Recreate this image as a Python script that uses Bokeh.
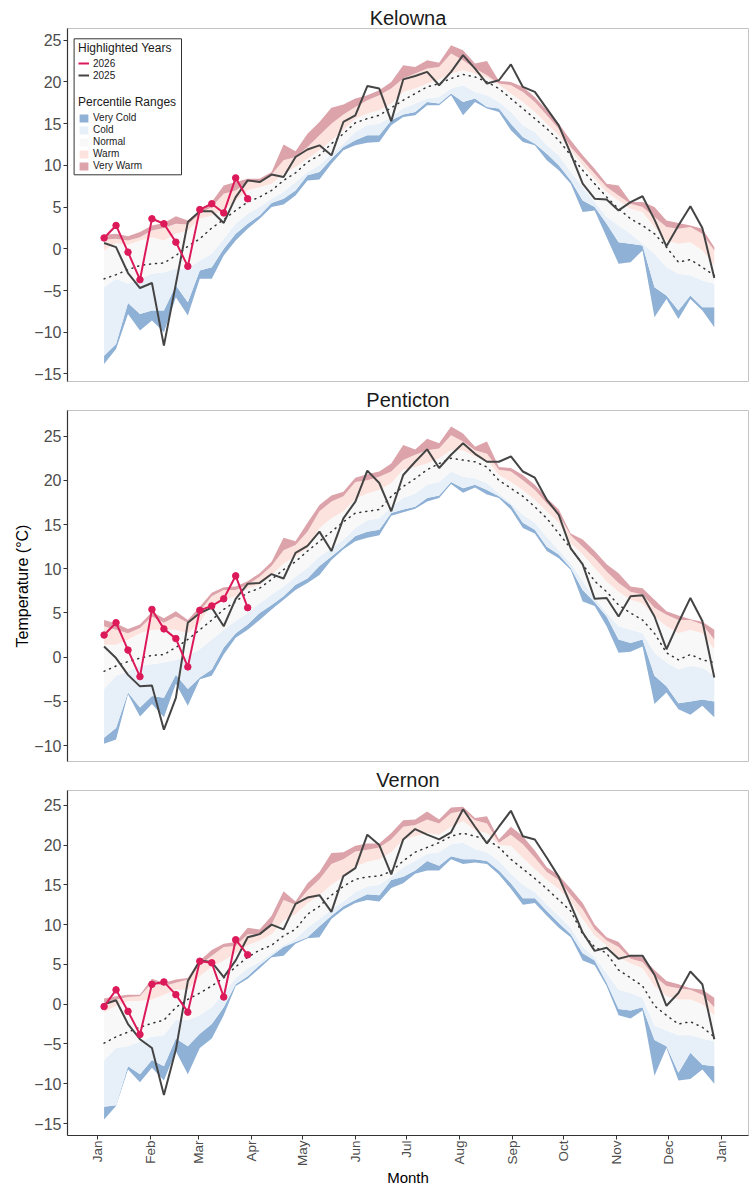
import numpy as np
import pandas as pd
from bokeh.plotting import figure
from bokeh.models import (ColumnDataSource, Range1d, FixedTicker, MonthsTicker,
                          DatetimeTickFormatter, Legend, LegendItem, BoxAnnotation)
from bokeh.layouts import column
from bokeh.embed import file_html
from bokeh.resources import INLINE

FONT = "Liberation Sans"

# ---------------- data (weekly, 52 weeks) ----------------
WEEK_START = "2025-01-05"
N_WEEKS = 52
N_2026 = 13

KEL_MAX = [1.7, 1.8, 1.5, 2.0, 2.8, 3.1, 3.9, 3.4, 4.6, 5.6, 7.6, 8.0, 8.4, 8.4, 9.2, 12.5, 11.7, 13.8, 15.2, 16.9,
           17.3, 18.0, 18.4, 19.0, 20.0, 22.0, 21.8, 22.6, 22.3, 24.4, 23.8, 22.2, 22.5, 20.1, 20.0, 19.4, 18.2, 16.6, 15.0, 13.0,
           11.2, 9.6, 7.8, 7.6, 5.6, 5.6, 5.0, 3.4, 3.1, 2.8, 2.4, 0.2]
KEL_P90 = [1.1, 1.2, 1.0, 1.4, 2.2, 2.5, 3.0, 2.9, 4.2, 5.0, 6.6, 7.0, 8.0, 8.0, 8.9, 10.6, 11.0, 12.2, 13.6, 15.0,
           16.1, 17.0, 17.8, 18.4, 19.2, 20.4, 21.0, 21.6, 21.8, 23.4, 22.6, 21.6, 20.8, 19.8, 19.6, 18.8, 17.6, 16.0, 14.4, 12.2,
           10.6, 9.0, 7.4, 6.4, 5.4, 5.0, 3.8, 2.6, 2.4, 2.6, 1.8, -0.2]
KEL_P70 = [-0.2, 0.7, 0.5, 1.0, 1.4, 1.0, 1.8, 2.2, 3.6, 4.0, 4.6, 5.8, 7.0, 7.4, 7.8, 9.0, 9.8, 10.8, 11.8, 13.0,
           14.2, 15.6, 16.2, 16.6, 17.4, 18.8, 19.2, 19.8, 20.3, 21.0, 21.4, 21.0, 20.5, 19.7, 18.6, 17.6, 16.4, 15.0, 13.6, 11.8,
           10.0, 8.4, 6.8, 5.8, 4.8, 4.4, 2.6, 1.0, 0.6, 0.8, -0.2, -2.0]
KEL_MED = [-3.6, -3.1, -2.5, -2.0, -1.8, -1.7, -0.8, 0.3, 1.2, 2.5, 3.5, 4.6, 5.6, 6.2, 7.0, 8.2, 9.1, 10.4, 11.2, 12.6,
           13.8, 15.1, 15.6, 16.0, 16.9, 17.8, 18.6, 19.4, 19.8, 20.4, 20.9, 20.6, 20.0, 19.2, 18.0, 16.8, 15.6, 14.4, 13.0, 11.2,
           9.4, 7.8, 6.2, 4.8, 3.6, 2.8, 1.8, 0.2, -1.6, -1.3, -2.2, -3.2]
KEL_P30 = [-4.6, -3.6, -4.2, -3.6, -3.0, -2.8, -2.4, -2.4, -1.4, -0.6, 1.2, 3.0, 4.2, 5.0, 6.0, 6.8, 8.0, 9.2, 10.0, 11.4,
           12.6, 14.0, 14.8, 15.0, 15.8, 16.8, 17.4, 18.0, 18.2, 19.2, 19.6, 18.8, 18.4, 17.6, 16.4, 14.8, 14.0, 12.4, 11.2, 9.2,
           7.4, 5.6, 3.8, 2.8, 1.8, 0.6, -0.6, -2.2, -3.0, -3.2, -3.8, -4.2]
KEL_P10 = [-12.8, -11.4, -6.5, -7.8, -7.4, -7.4, -4.4, -6.4, -2.6, -2.2, 0.0, 1.8, 3.0, 4.0, 5.5, 6.0, 7.0, 8.8, 9.2, 10.8,
           12.2, 13.0, 13.6, 13.6, 15.4, 16.1, 16.4, 17.6, 17.4, 18.6, 17.6, 18.0, 17.0, 16.8, 15.0, 13.4, 12.6, 11.4, 10.0, 8.2,
           5.8, 5.0, 3.0, 0.8, 0.6, 0.4, -4.6, -5.6, -7.4, -5.6, -7.0, -7.0]
KEL_MIN = [-13.8, -12.0, -7.8, -9.8, -8.6, -10.0, -5.8, -8.0, -3.6, -3.6, -0.8, 1.0, 2.4, 3.6, 5.0, 5.3, 6.4, 8.2, 8.3, 10.2,
           11.8, 12.4, 12.7, 12.8, 14.8, 15.8, 16.0, 17.2, 17.2, 18.4, 16.0, 17.6, 16.8, 16.4, 14.2, 12.8, 12.4, 10.6, 9.4, 7.8,
           4.4, 4.6, 1.4, -1.8, -1.6, -0.2, -8.2, -6.0, -8.4, -6.0, -7.4, -9.4]
KEL_2025 = [0.7, 0.2, -2.9, -4.7, -4.1, -11.6, -4.2, 3.2, 4.5, 4.5, 3.1, 6.2, 8.2, 8.0, 8.9, 8.6, 11.0, 11.9, 12.4, 11.2,
            15.2, 16.0, 19.5, 19.2, 15.3, 20.3, 20.7, 21.2, 19.6, 21.2, 23.2, 21.6, 19.8, 20.2, 22.1, 19.4, 18.8, 16.8, 14.8, 11.4,
            7.8, 6.0, 5.9, 4.6, 5.6, 6.3, 3.5, 0.3, 2.8, 5.1, 2.5, -3.5]
KEL_2026 = [1.3, 2.8, -0.4, -3.7, 3.6, 3.0, 0.8, -2.1, 4.7, 5.4, 4.3, 8.5, 6.0]

PEN_MAX = [4.2, 3.8, 3.2, 3.7, 5.1, 4.4, 5.2, 4.2, 5.7, 7.3, 7.9, 8.0, 8.6, 9.5, 10.8, 13.5, 13.1, 15.2, 17.2, 18.3,
           18.7, 20.3, 20.7, 21.0, 21.9, 24.0, 23.5, 24.7, 24.2, 26.1, 25.3, 23.8, 24.4, 21.5, 21.4, 20.6, 19.5, 18.0, 16.7, 14.0,
           13.3, 12.0, 10.5, 9.5, 8.0, 7.8, 6.5, 5.2, 4.7, 4.3, 4.0, 3.1]
PEN_P90 = [3.5, 3.1, 2.7, 3.3, 4.6, 3.9, 4.6, 3.9, 5.2, 6.9, 7.6, 7.6, 8.2, 9.1, 10.3, 12.1, 12.7, 14.2, 16.5, 17.6,
           18.2, 19.8, 20.0, 20.4, 21.0, 22.3, 22.9, 23.4, 23.6, 25.1, 24.4, 23.4, 23.0, 21.2, 21.0, 20.0, 18.9, 17.4, 16.1, 13.8,
           12.5, 11.2, 9.7, 8.4, 7.4, 7.1, 5.6, 4.8, 4.2, 4.2, 3.7, 2.0]
PEN_P70 = [1.4, 1.4, 2.0, 2.7, 3.1, 3.1, 3.1, 2.7, 3.9, 6.1, 6.5, 6.9, 7.8, 8.2, 9.3, 10.6, 11.4, 12.3, 14.6, 15.7,
           16.5, 17.9, 18.5, 18.9, 19.7, 21.2, 21.5, 21.9, 22.5, 23.4, 23.4, 22.7, 22.3, 20.6, 19.8, 18.9, 17.8, 16.5, 15.2, 12.9,
           11.6, 10.1, 8.6, 7.4, 6.5, 6.1, 4.6, 3.5, 2.7, 3.1, 2.7, 0.9]
PEN_MED = [-1.6, -1.0, -0.5, -0.1, 0.2, 0.3, 1.1, 2.0, 3.1, 4.2, 5.4, 6.3, 7.3, 7.8, 8.8, 9.9, 10.8, 12.0, 13.1, 14.2,
           15.3, 16.3, 16.5, 16.7, 18.2, 19.3, 20.2, 21.2, 21.9, 22.5, 22.3, 22.1, 21.5, 20.0, 19.1, 18.2, 17.0, 15.7, 14.0, 12.3,
           10.5, 8.6, 7.4, 5.9, 5.0, 4.2, 2.7, 0.5, -0.3, 0.3, -0.3, -0.6]
PEN_P30 = [-3.6, -2.1, -1.6, -1.0, -0.8, -0.6, -0.3, 0.1, 0.9, 2.0, 3.1, 4.1, 5.0, 6.1, 7.1, 8.0, 9.1, 10.1, 11.4, 12.3,
           13.3, 14.6, 15.5, 15.7, 17.0, 18.0, 18.5, 19.5, 19.8, 21.0, 20.4, 20.2, 19.7, 18.5, 17.4, 16.1, 15.2, 13.6, 12.1, 10.6,
           8.6, 6.7, 5.0, 3.5, 3.1, 2.7, 0.5, -0.6, -1.4, -1.0, -1.2, -2.1]
PEN_P10 = [-9.1, -8.0, -4.0, -5.7, -4.4, -4.6, -2.0, -3.6, -2.3, -1.4, 1.1, 2.7, 3.7, 5.0, 5.9, 6.9, 8.2, 8.9, 10.3, 11.4,
           12.5, 13.7, 14.2, 14.4, 16.3, 16.7, 17.0, 18.0, 18.3, 19.8, 19.1, 19.5, 18.9, 18.2, 17.2, 15.2, 14.4, 12.5, 11.6, 10.1,
           7.6, 6.2, 4.6, 2.0, 1.6, 2.0, -2.1, -3.3, -5.2, -5.0, -4.8, -5.0]
PEN_MIN = [-9.8, -9.3, -4.2, -6.7, -5.3, -6.8, -3.0, -5.5, -2.5, -2.1, 0.3, 2.2, 3.1, 4.2, 5.4, 6.5, 7.6, 8.4, 9.3, 11.0,
           12.2, 13.1, 13.5, 13.8, 16.0, 16.4, 16.8, 17.6, 18.0, 19.6, 18.6, 19.2, 18.4, 18.0, 16.7, 14.6, 14.0, 12.0, 11.2, 9.9,
           6.3, 5.8, 3.5, 0.5, 0.6, 1.2, -5.3, -4.0, -5.9, -6.5, -5.5, -6.8]
PEN_2025 = [1.2, -0.1, -2.0, -3.3, -3.2, -8.2, -4.6, 3.9, 5.0, 5.6, 3.5, 6.6, 8.3, 8.4, 9.4, 8.9, 11.8, 12.6, 14.2, 12.0,
            15.7, 17.6, 21.1, 19.7, 16.5, 20.6, 22.1, 23.5, 21.4, 22.9, 24.2, 23.0, 22.1, 22.1, 22.7, 21.0, 20.3, 17.8, 16.1, 12.3,
            10.5, 6.6, 6.7, 4.6, 6.9, 7.0, 4.6, 0.9, 3.9, 6.7, 4.1, -2.3]
PEN_2026 = [2.5, 3.9, 0.8, -2.2, 5.4, 3.2, 2.1, -1.1, 5.3, 5.8, 6.6, 9.2, 5.6]

VER_MAX = [0.7, 1.0, 1.2, 1.2, 3.2, 2.7, 3.1, 3.3, 5.5, 6.8, 7.6, 7.8, 9.6, 9.4, 11.1, 14.2, 12.9, 15.2, 16.6, 19.0,
           19.1, 19.9, 20.2, 20.2, 21.5, 23.1, 23.2, 24.2, 23.2, 24.7, 24.8, 23.4, 23.6, 20.7, 22.3, 21.1, 19.3, 17.2, 16.2, 14.5,
           12.7, 10.0, 8.4, 7.8, 6.1, 5.9, 4.3, 2.9, 2.5, 2.0, 1.8, 0.8]
VER_P90 = [0.2, 0.6, 0.9, 1.0, 2.7, 2.3, 2.7, 3.1, 4.9, 6.1, 7.2, 7.3, 8.8, 8.8, 10.0, 13.1, 12.5, 14.3, 15.7, 17.6,
           18.2, 19.2, 19.4, 19.7, 20.7, 22.3, 22.5, 23.2, 22.7, 24.0, 24.3, 23.1, 22.7, 20.3, 21.3, 20.1, 18.4, 16.6, 15.6, 13.7,
           11.9, 9.4, 8.0, 7.2, 5.7, 5.3, 3.5, 2.3, 2.0, 1.8, 1.2, -0.4]
VER_P70 = [-1.0, -0.2, 0.4, 0.4, 0.6, 1.2, 1.8, 1.8, 3.5, 4.7, 5.5, 6.4, 7.4, 8.0, 8.8, 10.5, 11.3, 12.7, 13.7, 15.0,
           16.0, 17.3, 17.9, 18.2, 19.1, 20.7, 21.1, 21.5, 21.3, 22.3, 23.0, 21.9, 21.5, 20.0, 19.9, 18.4, 17.0, 15.6, 14.5, 12.9,
           10.7, 8.6, 7.4, 5.9, 5.1, 4.5, 2.3, 1.0, 0.6, 0.6, 0.0, -1.4]
VER_MED = [-4.9, -4.1, -3.5, -2.9, -2.4, -2.0, -0.4, 0.6, 1.4, 2.3, 3.3, 4.7, 5.9, 6.8, 7.4, 8.6, 9.4, 11.3, 12.3, 13.7,
           14.8, 15.7, 16.0, 16.1, 16.7, 18.0, 19.1, 19.7, 20.3, 21.1, 21.5, 21.1, 20.7, 19.7, 18.2, 17.0, 15.8, 14.5, 13.1, 11.7,
           8.8, 7.2, 6.4, 4.3, 3.3, 2.3, -0.2, -1.4, -2.5, -2.2, -2.9, -4.1]
VER_P30 = [-7.0, -5.5, -5.3, -4.7, -4.1, -3.9, -2.0, -2.0, -1.4, -0.4, 1.4, 3.3, 4.5, 5.3, 6.4, 7.4, 8.2, 9.6, 10.7, 11.9,
           12.9, 14.1, 14.8, 15.0, 16.0, 17.2, 18.0, 18.9, 19.1, 20.1, 20.3, 19.5, 19.1, 18.0, 16.4, 15.0, 14.1, 12.5, 11.1, 9.6,
           7.2, 5.9, 3.9, 1.8, 1.4, 0.8, -2.7, -3.3, -3.9, -3.9, -4.3, -4.7]
VER_P10 = [-12.9, -12.7, -7.8, -8.8, -7.0, -7.8, -4.3, -5.3, -3.7, -2.5, -0.4, 2.5, 3.5, 4.9, 6.1, 7.2, 7.8, 8.4, 9.8, 11.1,
           12.3, 13.1, 13.8, 13.7, 15.6, 16.0, 16.8, 18.0, 17.4, 18.6, 18.2, 18.2, 18.0, 16.8, 15.2, 13.3, 13.3, 11.7, 10.2, 8.8,
           6.4, 5.5, 2.7, -0.6, -0.8, -0.4, -4.5, -5.3, -8.6, -6.1, -7.6, -7.8]
VER_MIN = [-14.5, -12.8, -8.2, -9.8, -8.0, -9.6, -5.9, -8.8, -5.5, -4.3, -1.4, 2.3, 3.2, 4.5, 5.9, 6.1, 7.6, 8.3, 8.4, 10.7,
           11.9, 12.7, 13.1, 12.9, 14.6, 15.2, 16.4, 16.8, 16.8, 18.2, 17.6, 17.8, 17.6, 16.3, 14.5, 12.5, 12.7, 11.1, 9.6, 8.4,
           5.5, 4.9, 2.3, -1.4, -1.8, -0.8, -9.0, -5.5, -9.6, -9.4, -8.2, -10.0]
VER_2025 = [0.0, 0.5, -2.5, -4.4, -5.5, -11.4, -5.7, 2.9, 5.5, 5.3, 3.4, 5.5, 8.4, 8.8, 10.0, 9.4, 12.6, 13.4, 13.7, 11.6,
            16.1, 17.1, 21.3, 20.0, 16.3, 20.7, 22.0, 21.3, 20.7, 21.6, 24.5, 22.3, 20.2, 22.3, 24.3, 21.1, 20.7, 18.4, 16.0, 12.5,
            9.0, 6.7, 7.1, 5.7, 6.1, 6.1, 3.7, -0.2, 1.4, 4.1, 2.5, -4.4]
VER_2026 = [-0.3, 1.8, -0.9, -3.8, 2.5, 2.8, 1.2, -1.0, 5.4, 5.2, 0.9, 8.1, 6.2]

STATIONS = ["Kelowna", "Penticton", "Vernon"]
Y_TICKS = {"Kelowna": [-15, -10, -5, 0, 5, 10, 15, 20, 25],
           "Penticton": [-10, -5, 0, 5, 10, 15, 20, 25],
           "Vernon": [-15, -10, -5, 0, 5, 10, 15, 20, 25]}
Y_LIMITS = {"Kelowna": (-15.9, 26.4), "Penticton": (-11.8, 27.9), "Vernon": (-16.5, 26.85)}
BAND_LABELS = ["Very Cold", "Cold", "Normal", "Warm", "Very Warm"]
YEAR_LABELS = ["2026", "2025"]

DATA = {
    "Kelowna": (KEL_MIN, KEL_P10, KEL_P30, KEL_MED, KEL_P70, KEL_P90, KEL_MAX, KEL_2025, KEL_2026),
    "Penticton": (PEN_MIN, PEN_P10, PEN_P30, PEN_MED, PEN_P70, PEN_P90, PEN_MAX, PEN_2025, PEN_2026),
    "Vernon": (VER_MIN, VER_P10, VER_P30, VER_MED, VER_P70, VER_P90, VER_MAX, VER_2025, VER_2026),
}

# ---------------- styling ----------------
BAND_COLORS = ["#8fb1d6", "#e7f0f8", "#f8f8f8", "#fde3dd", "#dca3ab"]
C2025 = "#444444"
C2026 = "#dc1a5a"
AX = "#333333"
TICKLAB = "#4d4d4d"

W = 752
BL, BR = 67, 4
FW = W - BL - BR
LAYOUT = {  # height, top border, bottom border
    "Kelowna": (385, 28, 4),
    "Penticton": (380, 25, 4),
    "Vernon": (424, 25, 48),
}

weeks = pd.date_range(WEEK_START, periods=N_WEEKS, freq="7D")
weeks26 = weeks[:N_2026]
X0 = pd.Timestamp("2025-01-01") - pd.Timedelta(days=17.4)
X1 = pd.Timestamp("2025-01-01") + pd.Timedelta(days=381)
XR = Range1d(start=X0, end=X1)
EPOCH = pd.Timestamp("1970-01-01")
X0_MS = (X0 - EPOCH).total_seconds() * 1000
X1_MS = (X1 - EPOCH).total_seconds() * 1000


def make_panel(name, bottom_axis=False, ylabel=None, legend=False):
    mn, p10, p30, med, p70, p90, mx, y25, y26 = DATA[name]
    h, top, bot = LAYOUT[name]
    ylo, yhi = Y_LIMITS[name]
    p = figure(width=W, height=h, x_axis_type="datetime", x_range=XR,
               y_range=Range1d(ylo, yhi), output_backend="svg", toolbar_location=None,
               min_border_left=BL, min_border_right=BR, min_border_top=top,
               min_border_bottom=bot, title=name)
    p.title.align = "center"
    p.title.text_font = FONT
    p.title.text_font_size = "20px"
    p.title.text_font_style = "normal"
    p.title.text_color = "#1a1a1a"
    p.title.standoff = 0
    p.outline_line_color = "#c4c4c4"
    p.outline_line_width = 1
    p.xgrid.visible = False
    p.ygrid.visible = False
    p.background_fill_color = "white"
    p.border_fill_color = "white"

    src = ColumnDataSource(dict(x=weeks, mn=mn, p10=p10, p30=p30, med=med, p70=p70,
                                p90=p90, mx=mx, y25=y25))
    bounds = ["mn", "p10", "p30", "p70", "p90", "mx"]
    band_r = []
    for i, col in enumerate(BAND_COLORS):
        r = p.varea(x="x", y1=bounds[i], y2=bounds[i + 1], source=src,
                    fill_color=col, fill_alpha=1)
        band_r.append(r)
    p.line("x", "med", source=src, line_color=AX, line_width=1.5,
           line_dash="1 5", line_cap="round")
    r25 = p.line("x", "y25", source=src, line_color=C2025, line_width=2)
    src26 = ColumnDataSource(dict(x=weeks26, y=y26))
    r26 = p.line("x", "y", source=src26, line_color=C2026, line_width=2)
    p.scatter("x", "y", source=src26, size=6.5, fill_color=C2026, line_color=C2026)

    yax = p.yaxis[0]
    yax.ticker = FixedTicker(ticks=Y_TICKS[name])
    yax.axis_line_color = AX
    yax.axis_line_width = 1.2
    yax.major_tick_line_color = AX
    yax.major_tick_in = 0
    yax.major_tick_out = 4
    yax.minor_tick_line_color = None
    yax.major_label_text_font = FONT
    yax.major_label_text_font_size = "16px"
    yax.major_label_text_color = TICKLAB
    yax.major_label_standoff = 2
    if ylabel:
        yax.axis_label = ylabel
        yax.axis_label_text_font = FONT
        yax.axis_label_text_font_size = "16px"
        yax.axis_label_text_font_style = "normal"
        yax.axis_label_text_color = "#000000"
        yax.axis_label_standoff = 0

    xax = p.xaxis[0]
    if bottom_axis:
        xax.ticker = MonthsTicker(months=list(range(12)))
        fmt = "%b"
        xax.formatter = DatetimeTickFormatter(microseconds=fmt, milliseconds=fmt, seconds=fmt,
                                              minsec=fmt, minutes=fmt, hourmin=fmt, hours=fmt,
                                              days=fmt, months=fmt, years=fmt)
        xax.major_label_orientation = np.pi / 2
        xax.axis_line_color = AX
        xax.axis_line_width = 1.2
        xax.major_tick_line_color = AX
        xax.major_tick_in = 0
        xax.major_tick_out = 4
        xax.minor_tick_line_color = None
        xax.major_label_text_font = FONT
        xax.major_label_text_font_size = "13.5px"
        xax.major_label_text_color = TICKLAB
        xax.major_label_standoff = 1
        xax.axis_label = "Month"
        xax.axis_label_text_font = FONT
        xax.axis_label_text_font_size = "15px"
        xax.axis_label_text_font_style = "normal"
        xax.axis_label_text_color = "#000000"
        xax.axis_label_standoff = 0
    else:
        xax.visible = False

    if legend:
        fh = h - top - bot

        def ydat(rel):
            return yhi - rel * (yhi - ylo) / fh

        def xms(rel):
            return X0_MS + rel * (X1_MS - X0_MS) / FW

        box = BoxAnnotation(left=xms(6.6), right=xms(114), top=ydat(10.3), bottom=ydat(146.3),
                            fill_color="white", fill_alpha=1, line_color=AX, line_width=1,
                            line_alpha=1)
        p.add_layout(box)
        items_a = [LegendItem(label=YEAR_LABELS[0], renderers=[r26]),
                   LegendItem(label=YEAR_LABELS[1], renderers=[r25])]
        items_b = [LegendItem(label=lab, renderers=[r]) for lab, r in zip(BAND_LABELS, band_r)]
        for items, ttl, bottom_rel in [(items_a, "Highlighted Years", 52.7),
                                       (items_b, "Percentile Ranges", 143.2)]:
            lg = Legend(items=items, title=ttl, location=(11, fh - bottom_rel))
            lg.title_text_font = FONT
            lg.title_text_font_size = "12px"
            lg.title_text_font_style = "normal"
            lg.title_text_color = "#1a1a1a"
            lg.title_standoff = 3
            lg.label_text_font = FONT
            lg.label_text_font_size = "10px"
            lg.label_text_color = "#1a1a1a"
            lg.glyph_width = 11
            lg.glyph_height = 10
            lg.label_height = 11
            lg.label_standoff = 4
            lg.spacing = 1
            lg.padding = 0
            lg.margin = 0
            lg.border_line_color = None
            lg.background_fill_alpha = 0
            p.add_layout(lg)
    return p


p1 = make_panel("Kelowna", legend=True)
p2 = make_panel("Penticton", ylabel="Temperature (°C)")
p3 = make_panel("Vernon", bottom_axis=True)

layout = column(p1, p2, p3, spacing=0)
open("out.html", "w").write(file_html(layout, INLINE))
